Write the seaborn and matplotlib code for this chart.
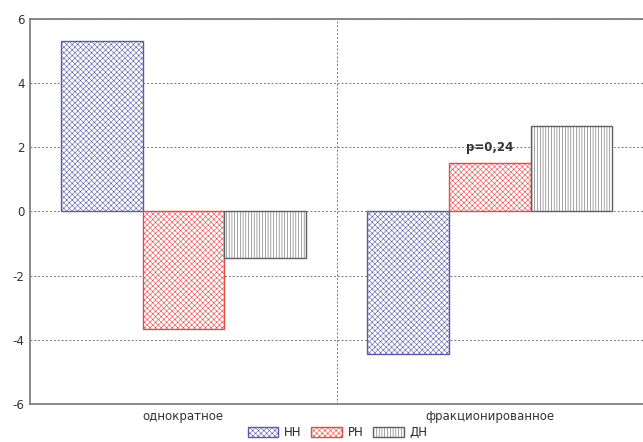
import pandas as pd
import numpy as np
import matplotlib.pyplot as plt
import seaborn as sns
from matplotlib.patches import Patch

# data
categories = ['однократное', 'фракционированное']
groups = ['НН', 'РН', 'ДН']
nn_values = [5.31, -4.44]
rn_values = [-3.66, 1.51]
dn_values = [-1.45, 2.66]

colors = {'НН': '#5a5aa8', 'РН': '#e84848', 'ДН': '#606060'}
hatches = {'НН': 'xxxxxx', 'РН': 'xxxxxx', 'ДН': '||||||'}

df = pd.DataFrame({
    'category': categories * 3,
    'group': [g for g in groups for _ in categories],
    'value': nn_values + rn_values + dn_values,
})

sns.set_style('white')
plt.rcParams['font.family'] = ['DejaVu Sans']
plt.rcParams['axes.unicode_minus'] = False
plt.rcParams['hatch.linewidth'] = 0.4

fig = plt.figure(figsize=(6.43, 4.42), dpi=100)
ax = fig.add_axes([0.047, 0.086, 0.953, 0.871])

sns.barplot(data=df, x='category', y='value', hue='group', order=categories,
            hue_order=groups, width=0.8, ax=ax, legend=False)

for g, cont in zip(groups, ax.containers):
    for bar in cont:
        bar.set_facecolor('white')
        bar.set_edgecolor(colors[g])
        bar.set_hatch(hatches[g])
        bar.set_linewidth(1.0)

ax.set_xlim(-0.5, 1.5)
ax.set_ylim(-6, 6)
ax.set_yticks(np.arange(-6, 7, 2))
ax.set_xlabel('')
ax.set_ylabel('')
ax.tick_params(axis='both', labelsize=8.5, colors='#333333', length=0, pad=4)

ax.grid(True, axis='y', linestyle=(0, (2, 2)), color='#777777', linewidth=0.7)
ax.axvline(0.5, linestyle=(0, (2, 2)), color='#777777', linewidth=0.7, zorder=0)
ax.set_axisbelow(True)
for s in ['top', 'bottom', 'left']:
    ax.spines[s].set_color('#777777')
    ax.spines[s].set_linewidth(1.2)
ax.spines['right'].set_visible(False)

# p-value note above the РН bar of the second group
ax.text(1.0, 1.8, 'p=0,24', ha='center', va='bottom', fontsize=8.5,
        fontweight='bold', color='#333333')

handles = [Patch(facecolor='white', edgecolor=colors[g], hatch=hatches[g], label=g)
           for g in groups]
fig.legend(handles=handles, loc='center', bbox_to_anchor=(0.525, 0.022), ncol=3,
           frameon=False, fontsize=8.5, handlelength=2.6, handleheight=0.9,
           columnspacing=0.8, handletextpad=0.5, borderpad=0.1)

fig.savefig('out.png', dpi=100)
